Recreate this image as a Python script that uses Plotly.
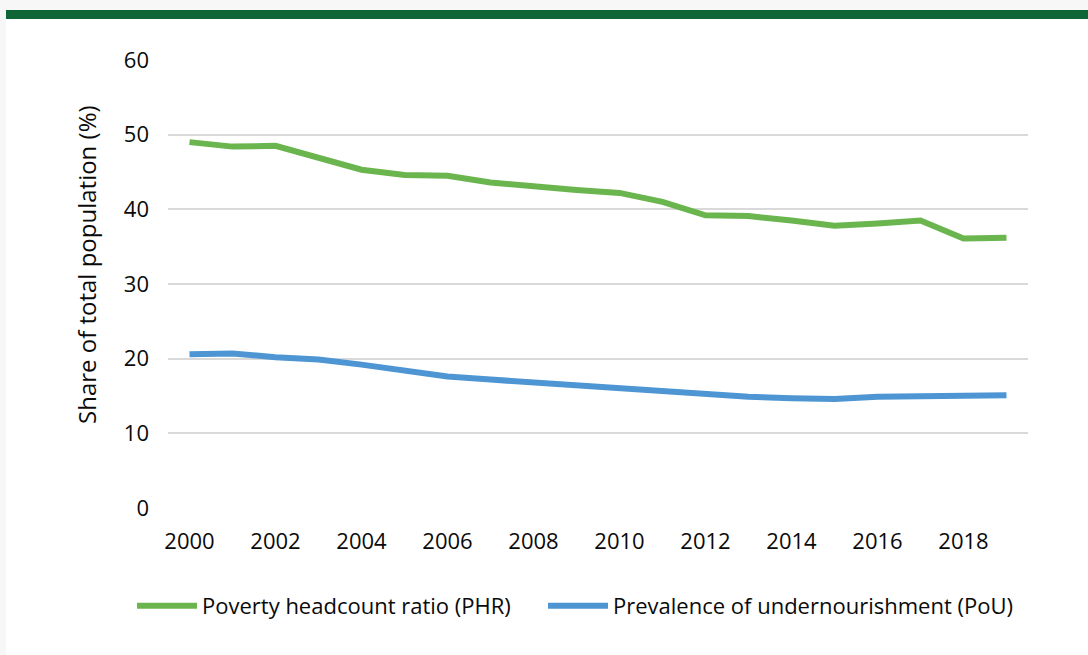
import plotly.graph_objects as go

years = [str(y) for y in range(2000, 2020)]
tick_years = [str(y) for y in range(2000, 2019, 2)]
phr = [49.0, 48.4, 48.5, 46.9, 45.3, 44.6, 44.5, 43.6, 43.0, 42.6,
       42.2, 41.0, 39.2, 39.1, 38.5, 37.8, 38.1, 38.5, 36.1, 36.2]
pou = [20.6, 20.7, 20.2, 19.9, 19.2, 18.3, 17.6, 17.2, 16.8, 16.4,
       16.0, 15.6, 15.3, 14.9, 14.7, 14.6, 14.9, 14.9, 15.1, 15.1]
y_ticks = [0, 10, 20, 30, 40, 50, 60]

W, H = 1088, 655
L, R, T, B = 168, 60, 60, 147
pw, ph = W - L - R, H - T - B

def px_x(p):
    return (p - L) / pw

def px_y(p):
    return (H - B - p) / ph

FONT = "Open Sans"
FS = 22
TXT = "#0A0A0A"
GREEN = "#6BB54F"
BLUE = "#4E96D3"

fig = go.Figure()
fig.add_trace(go.Scatter(x=years, y=phr, mode="lines", name="Poverty headcount ratio (PHR)",
                         line=dict(color=GREEN, width=6), legend="legend"))
fig.add_trace(go.Scatter(x=years, y=pou, mode="lines", name="Prevalence of undernourishment (PoU)",
                         line=dict(color=BLUE, width=6), legend="legend2"))

shapes = [
    dict(type="rect", xref="paper", yref="paper", x0=px_x(6), x1=px_x(W + 5),
         y0=px_y(H + 5), y1=px_y(10), fillcolor="white", line=dict(width=0), layer="below"),
    dict(type="rect", xref="paper", yref="paper", x0=px_x(6), x1=px_x(W + 5),
         y0=px_y(19), y1=px_y(10), fillcolor="#0E6637", line=dict(width=0), layer="below"),
]

legend_common = dict(orientation="h", yanchor="middle", y=px_y(606), xanchor="left",
                     font=dict(family=FONT, size=FS, color=TXT),
                     bgcolor="rgba(0,0,0,0)", itemwidth=60)

fig.update_layout(
    width=W, height=H,
    margin=dict(l=L, r=R, t=T, b=B),
    paper_bgcolor="#F7F7F7",
    plot_bgcolor="white",
    font=dict(family=FONT, size=FS, color=TXT),
    shapes=shapes,
    showlegend=True,
    legend=dict(x=px_x(132), **legend_common),
    legend2=dict(x=px_x(543), **legend_common),
    annotations=[dict(text="Share of total population (%)", textangle=-90, xref="paper", yref="paper",
                      x=px_x(86), y=px_y(265), xanchor="center", yanchor="middle", showarrow=False,
                      font=dict(family=FONT, size=24, color=TXT))],
)
fig.update_xaxes(type="category", tickmode="array", tickvals=tick_years, ticktext=tick_years,
                 showgrid=False, showline=False, zeroline=False, ticks="", ticklabelstandoff=18,
                 range=[-0.5, len(years) - 0.5], tickfont=dict(family=FONT, size=FS, color=TXT))
fig.update_yaxes(range=[0, 60], tickvals=y_ticks, showgrid=True, gridcolor="#D9D9D9", gridwidth=1.5,
                 zeroline=False, showline=False, ticks="", ticklabelstandoff=18,
                 tickfont=dict(family=FONT, size=FS, color=TXT))

fig.write_html("out.html", config={"displayModeBar": False},
               post_script="document.body.style.margin='0';document.body.style.background='#F7F7F7';")
